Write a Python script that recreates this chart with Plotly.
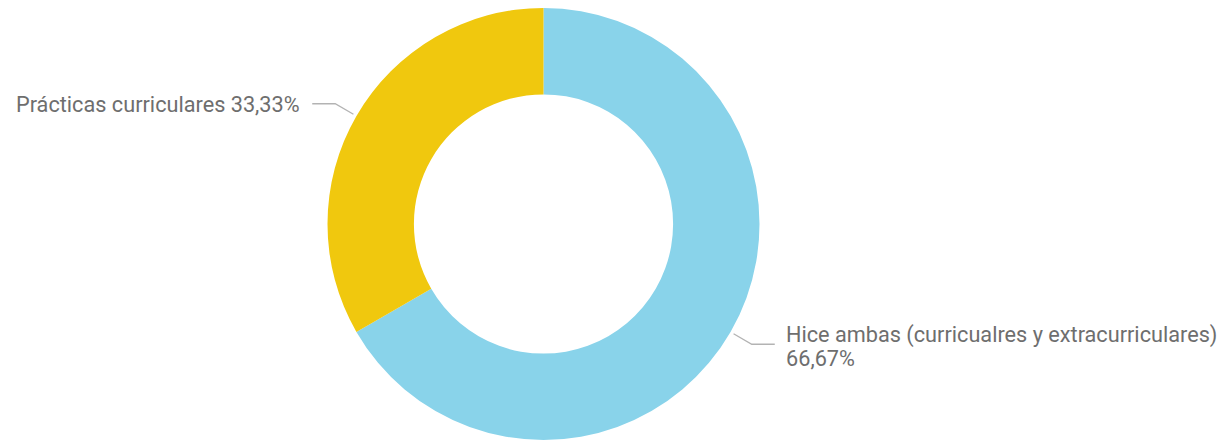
import math
import plotly.graph_objects as go

labels = ["Hice ambas (curricualres y extracurriculares)", "Prácticas curriculares"]
values = [66.67, 33.33]
label_lines = [["Hice ambas (curricualres y extracurriculares)", "66,67%"],
               ["Prácticas curriculares 33,33%"]]
colors = ["#89D3EA", "#F0C80E"]

W, H = 1228, 443
CX, CY, R = 535.5, 216.0, 216.5  # figure pixel coordinates (page has 8px body margin)

fig = go.Figure(go.Pie(
    labels=labels, values=values, hole=0.6, sort=False, direction="clockwise",
    rotation=0, textinfo="none", hoverinfo="label+percent",
    marker=dict(colors=colors, line=dict(width=0)),
    domain=dict(x=[(CX - R) / W, (CX + R) / W], y=[0, 1]),
    showlegend=False,
))

def to_paper(x, y):
    return x / W, 1 - y / (H - 11)

FONT = dict(family="Roboto", size=21.7, color="#6E6E6E")
total = sum(values)
cum = 0.0
for v, lines in zip(values, label_lines):
    mid = (cum + v / 2) / total * 360.0  # degrees clockwise from top
    cum += v
    th = math.radians(90 - mid)
    px0 = CX + (R + 3) * math.cos(th)
    py0 = CY - (R + 3) * math.sin(th)
    px1 = CX + (R + 24) * math.cos(th)
    py1 = CY - (R + 24) * math.sin(th)
    side = 1 if math.cos(th) > 0 else -1
    px2 = px1 + side * 23
    py2 = py1
    pts = [to_paper(px0, py0), to_paper(px1, py1), to_paper(px2, py2)]
    path = "M {} {} L {} {} L {} {}".format(pts[0][0], pts[0][1], pts[1][0], pts[1][1], pts[2][0], pts[2][1])
    fig.add_shape(type="path", path=path, xref="paper", yref="paper",
                  line=dict(color="#B3B3B3", width=1.3))
    if side > 0:
        for i, ln in enumerate(lines):
            tx, ty = to_paper(px2 + 9, py2 - 9 + 23 * i)
            fig.add_annotation(x=tx, y=ty, xref="paper", yref="paper", text=ln, showarrow=False,
                               xanchor="left", yanchor="middle", font=FONT)
    else:
        tx, ty = to_paper(px2 - 10, py2 + 1)
        fig.add_annotation(x=tx, y=ty, xref="paper", yref="paper", text=lines[0], showarrow=False,
                           xanchor="right", yanchor="middle", font=FONT)

fig.update_layout(
    width=W, height=H, margin=dict(l=0, r=0, t=0, b=11),
    paper_bgcolor="white", plot_bgcolor="white",
)
fig.write_html("out.html")
